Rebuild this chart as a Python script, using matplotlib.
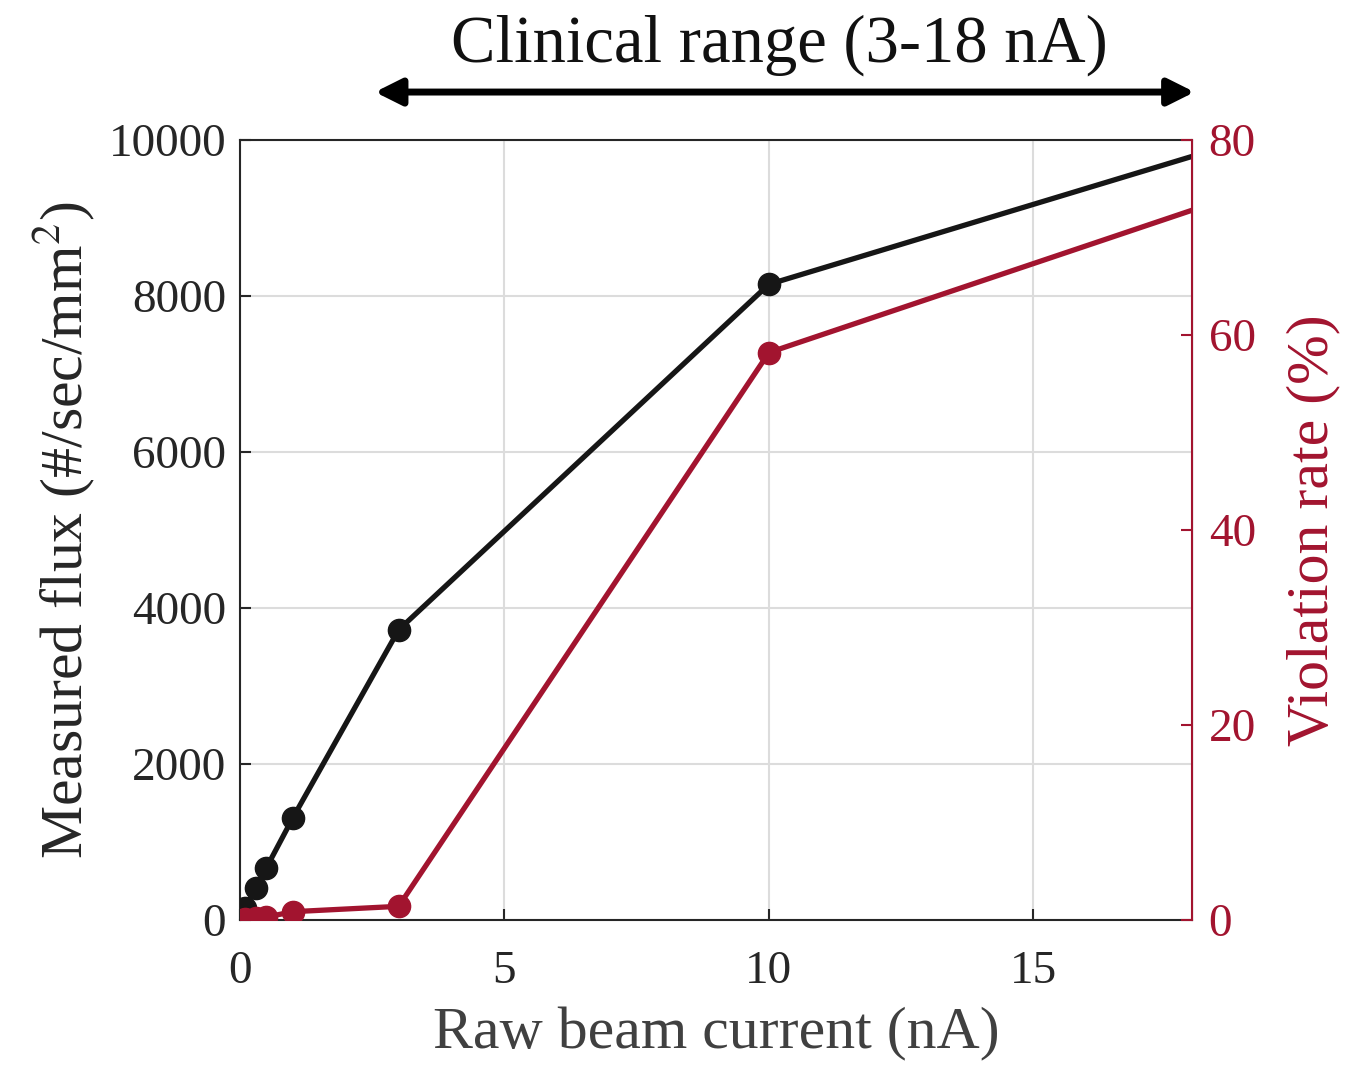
import numpy as np
import matplotlib.pyplot as plt

plt.rcParams['font.family'] = ['Liberation Serif', 'DejaVu Serif']
plt.rcParams['mathtext.fontset'] = 'stix'

# data
current = [0.1, 0.3, 0.5, 1, 3, 10, 18]
flux = [150, 410, 670, 1310, 3720, 8150, 9790]
violation = [0.1, 0.2, 0.3, 0.85, 1.4, 58.2, 72.8]

red = '#A2142F'

fig = plt.figure(figsize=(13.52, 10.68), dpi=100)
ax1 = fig.add_axes([0.1775, 0.1386, 0.7042, 0.7303])

ax1.plot(current, flux, '-o', color='#161616', lw=3.8, ms=16, markevery=slice(0, 6), zorder=3)
ax1.set_xlim(0, 18)
ax1.set_ylim(0, 10000)
ax1.set_xticks([0, 5, 10, 15])
ax1.set_yticks(np.arange(0, 10001, 2000))
ax1.grid(color='#dcdcdc', linewidth=1.5)
ax1.set_axisbelow(True)
ax1.tick_params(direction='in', labelsize=34, length=8, width=1.5, pad=10, colors='#262626')
ax1.tick_params(axis='x', pad=22)
ax1.set_xlabel('Raw beam current (nA)', fontsize=43, color='#404040', labelpad=10)
ax1.set_ylabel('Measured flux (#/sec/mm$^2$)', fontsize=43, color='#262626', labelpad=8)
for s in ['left', 'bottom', 'top']:
    ax1.spines[s].set_color('#262626')
    ax1.spines[s].set_linewidth(1.5)

ax2 = ax1.twinx()
ax2.plot(current, violation, '-o', color=red, lw=3.8, ms=16, markevery=slice(0, 6), zorder=3)
ax2.set_ylim(0, 80)
ax2.set_yticks([0, 20, 40, 60, 80])
ax2.tick_params(direction='in', labelsize=34, length=8, width=1.5, pad=12, colors=red)
ax2.set_ylabel('Violation rate (%)', fontsize=43, color=red, labelpad=22)
ax2.spines['right'].set_color(red)
ax2.spines['right'].set_linewidth(1.5)
for s in ['left', 'bottom', 'top']:
    ax2.spines[s].set_visible(False)

# clinical range arrow
ax1.annotate('', xy=(2.5, 1.0615), xytext=(18.1, 1.0615), xycoords=('data', 'axes fraction'),
             arrowprops=dict(arrowstyle='<|-|>', color='black', lw=5, mutation_scale=40),
             annotation_clip=False)
ax1.text(10.2, 1.122, 'Clinical range (3-18 nA)', transform=ax1.get_xaxis_transform(),
         ha='center', va='center', fontsize=48, color='#111111')

fig.savefig('out.png', dpi=100)
